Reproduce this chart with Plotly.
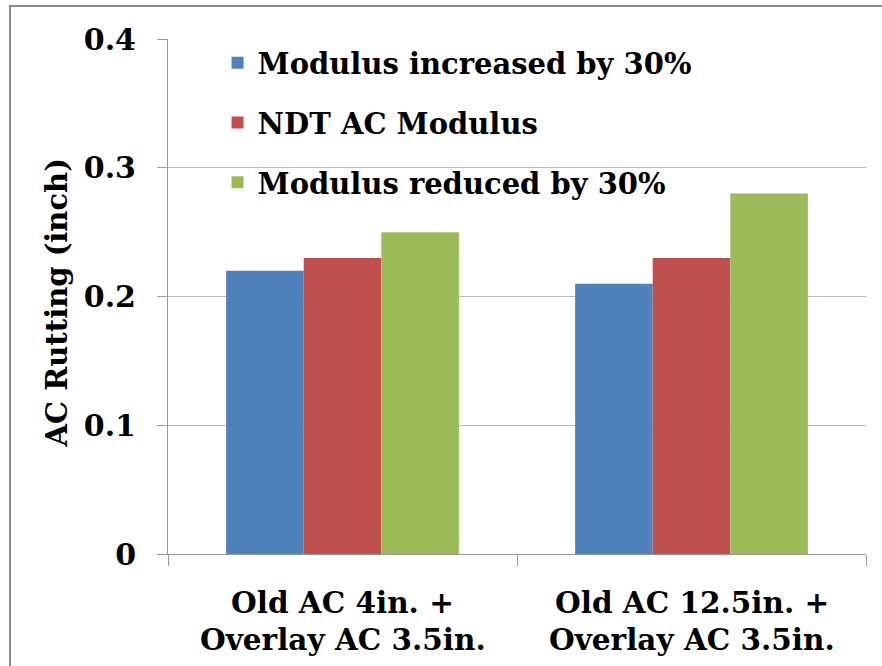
import plotly.graph_objects as go

categories = ["Old AC 4in. +<br>Overlay AC 3.5in.", "Old AC 12.5in. +<br>Overlay AC 3.5in."]
series_names = ["Modulus increased by 30%", "NDT AC Modulus", "Modulus reduced by 30%"]
series_values = [
    [0.22, 0.21],
    [0.23, 0.23],
    [0.25, 0.28],
]
colors = ["#4F81BD", "#C0504D", "#9BBB59"]
y_ticks = [0, 0.1, 0.2, 0.3, 0.4]
y_tick_labels = ["0", "0.1", "0.2", "0.3", "0.4"]
y_title = "AC Rutting (inch)"

FONT = "DejaVu Serif"

def b(s):
    return "<b>" + s + "</b>"

fig = go.Figure()
for name, vals, col in zip(series_names, series_values, colors):
    fig.add_trace(go.Bar(x=categories, y=vals, name=b(name), marker_color=col,
                         marker_line_width=0, legendgroup=name))

L, R, T, B = 168, 16, 39, 112
W, H = 882, 666
pw, ph = W - L - R, H - T - B

def fnt(size):
    return dict(family=FONT, size=size, color="black")

fig.update_layout(
    width=W, height=H,
    margin=dict(l=L, r=R, t=T, b=B),
    paper_bgcolor="white", plot_bgcolor="white",
    barmode="group", bargap=0.333, bargroupgap=0,
    font=fnt(30),
    showlegend=True,
    legend=dict(x=0.071, y=1.003, xanchor="left", yanchor="top",
                bgcolor="rgba(0,0,0,0)", font=fnt(29),
                traceorder="grouped", tracegroupgap=19, itemwidth=30),
    xaxis=dict(showline=True, linecolor="#999999", linewidth=1,
               ticks="outside", tickson="boundaries", ticklen=11, tickcolor="#999999",
               showticklabels=False, showgrid=False),
    yaxis=dict(range=[0, 0.4], tickvals=y_ticks, ticktext=[b(t) for t in y_tick_labels],
               showline=True, linecolor="#999999", linewidth=1,
               ticks="outside", ticklen=10, tickcolor="#999999",
               showgrid=True, gridcolor="#BBBBBB", gridwidth=1,
               tickfont=fnt(30), ticklabelstandoff=15, zeroline=False),
)

# y-axis title
fig.add_annotation(text=b(y_title), xref="paper", yref="paper", x=(56 - L) / pw,
                   y=0.5 - 6 / ph, xanchor="center", yanchor="middle", textangle=-90,
                   showarrow=False, font=fnt(29))

# category labels (two tight lines each)
line_centers = [602, 639]
for cat in categories:
    for line, yc in zip(cat.split("<br>"), line_centers):
        fig.add_annotation(text=b(line), x=cat, xref="x", yref="paper", y=1 - (yc - T) / ph,
                           xanchor="center", yanchor="middle", showarrow=False,
                           font=fnt(29.5))

# outer chart border (partially cropped like the reference)
x0 = (10 - L) / pw
y1 = 1 + (T - 6) / ph
fig.add_shape(type="rect", xref="paper", yref="paper", x0=x0, x1=1.2, y0=-0.5, y1=y1,
              line=dict(color="#888888", width=2), fillcolor="rgba(0,0,0,0)", layer="below")

fig.write_html("out.html")
